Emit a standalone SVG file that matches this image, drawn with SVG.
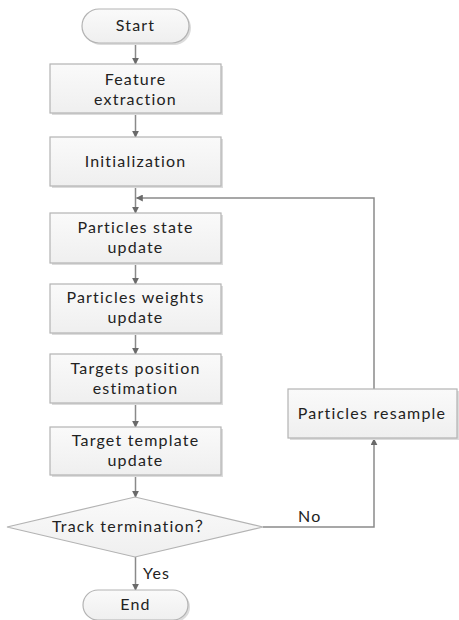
<svg xmlns="http://www.w3.org/2000/svg" width="459" height="620" viewBox="0 0 459 620">
<style>
.box{fill:url(#g);stroke:#b3b3b3;stroke-width:1.2}
.sh{fill:#dcdcdc}
.t{font-family:Lato,"Open Sans","Noto Sans CJK SC",sans-serif;font-size:16px;letter-spacing:1.2px;fill:#222222;text-anchor:middle}
.l{font-family:Lato,"Open Sans",sans-serif;font-size:16px;letter-spacing:1.2px;fill:#222222}
.q{font-family:"Noto Sans CJK SC",sans-serif}
.c{fill:none;stroke:#8a8a8a;stroke-width:1.5}
</style>
<defs>
<linearGradient id="g" x1="0" y1="0" x2="0" y2="1">
<stop offset="0" stop-color="#fafafa"/>
<stop offset="1" stop-color="#efefef"/>
</linearGradient>
<marker id="a" viewBox="0 0 10 10" refX="9" refY="5" markerWidth="7" markerHeight="7" orient="auto" markerUnits="userSpaceOnUse">
<path d="M0,0 L10,5 L0,10 z" fill="#6a6a6a"/>
</marker>
</defs>
<rect width="459" height="620" fill="#ffffff"/>
<g id="connectors">
<line class="c" x1="135.5" y1="43" x2="135.5" y2="64" marker-end="url(#a)"/>
<line class="c" x1="135.5" y1="113" x2="135.5" y2="137" marker-end="url(#a)"/>
<line class="c" x1="135.5" y1="186" x2="135.5" y2="213" marker-end="url(#a)"/>
<polyline class="c" points="374,389 374,198 136.5,198" marker-end="url(#a)"/>
<line class="c" x1="135.5" y1="263" x2="135.5" y2="284" marker-end="url(#a)"/>
<line class="c" x1="135.5" y1="333" x2="135.5" y2="354" marker-end="url(#a)"/>
<line class="c" x1="135.5" y1="403" x2="135.5" y2="427" marker-end="url(#a)"/>
<line class="c" x1="135.5" y1="475" x2="135.5" y2="497" marker-end="url(#a)"/>
<polyline class="c" points="263,527 374,527 374,439" marker-end="url(#a)"/>
<line class="c" x1="135.5" y1="557" x2="135.5" y2="590" marker-end="url(#a)"/>
<text class="l" x="298" y="522">No</text>
<text class="l" x="143" y="579">Yes</text>
</g>
<g id="start">
<rect class="sh" x="84" y="11" width="107" height="34" rx="17"/>
<rect class="box" x="82" y="9" width="107" height="34" rx="17"/>
<text class="t" x="135.5" y="31">Start</text>
</g>
<g id="feature">
<rect class="sh" x="52" y="66" width="171" height="49"/>
<rect class="box" x="50" y="64" width="171" height="49"/>
<text class="t" x="135.5" y="85">Feature</text>
<text class="t" x="135.5" y="104.5">extraction</text>
</g>
<g id="init">
<rect class="sh" x="52" y="139" width="171" height="49"/>
<rect class="box" x="50" y="137" width="171" height="49"/>
<text class="t" x="135.5" y="167">Initialization</text>
</g>
<g id="state">
<rect class="sh" x="52" y="215" width="171" height="50"/>
<rect class="box" x="50" y="213" width="171" height="50"/>
<text class="t" x="135.5" y="233">Particles state</text>
<text class="t" x="135.5" y="252.5">update</text>
</g>
<g id="weights">
<rect class="sh" x="52" y="286" width="171" height="49"/>
<rect class="box" x="50" y="284" width="171" height="49"/>
<text class="t" x="135.5" y="303">Particles weights</text>
<text class="t" x="135.5" y="322.5">update</text>
</g>
<g id="position">
<rect class="sh" x="52" y="356" width="171" height="49"/>
<rect class="box" x="50" y="354" width="171" height="49"/>
<text class="t" x="135.5" y="374">Targets position</text>
<text class="t" x="135.5" y="393.5">estimation</text>
</g>
<g id="template">
<rect class="sh" x="52" y="429" width="171" height="48"/>
<rect class="box" x="50" y="427" width="171" height="48"/>
<text class="t" x="135.5" y="446">Target template</text>
<text class="t" x="135.5" y="465.5">update</text>
</g>
<g id="decision">
<polygon class="box" points="7,527 135,497 263,527 135,557"/>
<text class="t" x="132" y="532">Track termination<tspan class="q">？</tspan></text>
</g>
<g id="resample">
<rect class="sh" x="290" y="391" width="169" height="49"/>
<rect class="box" x="288" y="389" width="169" height="49"/>
<text class="t" x="372" y="419">Particles resample</text>
</g>
<g id="end">
<rect class="sh" x="85" y="592" width="105" height="30" rx="15"/>
<rect class="box" x="83" y="590" width="105" height="30" rx="15"/>
<text class="t" x="135.5" y="610">End</text>
</g>
</svg>
